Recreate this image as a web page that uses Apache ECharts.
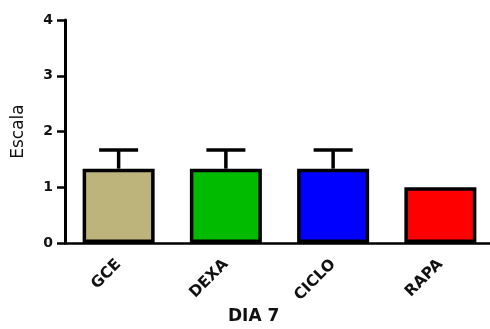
<!DOCTYPE html>
<html>
<head>
<meta charset="utf-8">
<script src="https://cdn.jsdelivr.net/npm/echarts@6/dist/echarts.min.js"></script>
<style>html,body{margin:0;padding:0;background:#fff;overflow:hidden;}#c{width:500px;height:329px;}</style>
</head>
<body>
<div id="c"></div>
<script>
var categories = ['GCE', 'DEXA', 'CICLO', 'RAPA'];
var means = [1.333, 1.333, 1.333, 1.0];
var errors = [0.333, 0.333, 0.333, 0];
var barColors = ['#BDB47C', '#00BB00', '#0000FF', '#FF0000'];
var yTicks = [0, 1, 2, 3, 4];
var yTitle = 'Escala';
var xTitle = 'DIA 7';

var chart = echarts.init(document.getElementById('c'));
var font = '"DejaVu Sans", Arial, sans-serif';
chart.setOption({
  animation: false,
  backgroundColor: '#fff',
  grid: { left: 65, top: 20, width: 429, height: 223 },
  xAxis: {
    type: 'category',
    data: categories,
    axisLine: { lineStyle: { color: '#000', width: 2.5 } },
    axisTick: { alignWithLabel: true, length: 7, lineStyle: { color: '#000', width: 2.5 } },
    axisLabel: { rotate: 45, margin: 19, color: '#111', fontWeight: 'bold', fontSize: 15.5, fontFamily: font }
  },
  yAxis: {
    type: 'value',
    min: yTicks[0], max: yTicks[yTicks.length - 1], interval: 1,
    name: yTitle,
    nameLocation: 'middle',
    nameRotate: 90,
    nameGap: 38,
    nameTextStyle: { color: '#111', fontSize: 17, fontFamily: font },
    splitLine: { show: false },
    axisLine: { show: true, lineStyle: { color: '#000', width: 3 } },
    axisTick: { show: true, length: 8, lineStyle: { color: '#000', width: 2.5 } },
    axisLabel: { margin: 12, color: '#111', fontWeight: 'bold', fontSize: 14, fontFamily: font }
  },
  graphic: [{
    type: 'text', left: 228, top: 308,
    style: { text: xTitle, fill: '#111', font: 'bold 17px "DejaVu Sans", Arial, sans-serif' }
  }],
  series: [{
    type: 'bar',
    barWidth: 72,
    data: means.map(function (v, i) {
      return { value: v, itemStyle: { color: barColors[i], borderColor: '#000', borderWidth: 3.5 } };
    }),
    z: 2
  }, {
    type: 'custom',
    z: 3,
    data: means.map(function (v, i) { return [i, v, errors[i]]; }),
    renderItem: function (params, api) {
      var e = api.value(2);
      if (!e) return null;
      var i = api.value(0), v = api.value(1);
      var p0 = api.coord([i, v]);
      var p1 = api.coord([i, v + e]);
      var style = { stroke: '#000', lineWidth: 3.5 };
      return {
        type: 'group',
        children: [
          { type: 'line', shape: { x1: p0[0], y1: p0[1], x2: p1[0], y2: p1[1] }, style: style },
          { type: 'line', shape: { x1: p1[0] - 19.5, y1: p1[1], x2: p1[0] + 19.5, y2: p1[1] }, style: style }
        ]
      };
    }
  }]
});
</script>
</body>
</html>
